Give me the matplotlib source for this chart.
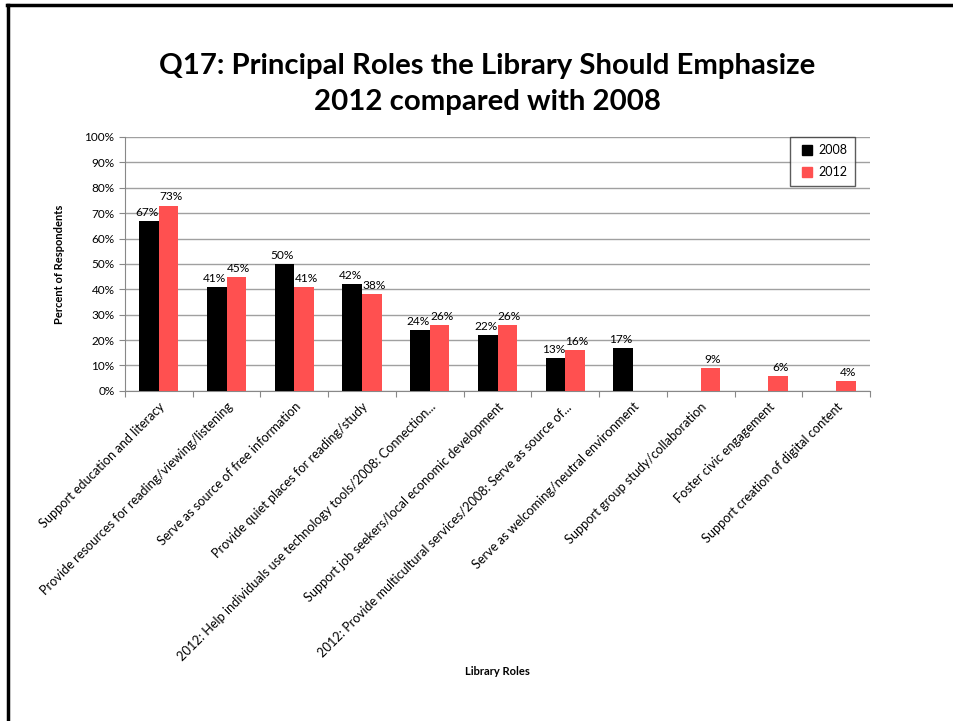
import matplotlib
matplotlib.use("Agg")
import matplotlib.pyplot as plt
from matplotlib.lines import Line2D
from matplotlib.ticker import FixedLocator, PercentFormatter
import numpy as np

roles = [
    "Support education and literacy",
    "Provide resources for reading/viewing/listening",
    "Serve as source of free information",
    "Provide quiet places for reading/study",
    "2012: Help individuals use technology tools/2008: Connection...",
    "Support job seekers/local economic development",
    "2012: Provide multicultural services/2008: Serve as source of...",
    "Serve as welcoming/neutral environment",
    "Support group study/collaboration",
    "Foster civic engagement",
    "Support creation of digital content",
]
pct_2008 = [67, 41, 50, 42, 24, 22, 13, 17, None, None, None]
pct_2012 = [73, 45, 41, 38, 26, 26, 16, None, 9, 6, 4]

plt.rcParams["font.family"] = ["Lato", "DejaVu Sans"]

fig = plt.figure(figsize=(9.54, 7.21), dpi=100)
ax = fig.add_axes([0.131, 0.458, 0.781, 0.352])

x = np.arange(len(roles))
w = 0.29
series = [(pct_2008, "2008", "#000000", -w / 2), (pct_2012, "2012", "#ff5050", w / 2)]
for vals, name, color, off in series:
    xs = [xi + off for xi, v in zip(x, vals) if v is not None]
    vs = [v for v in vals if v is not None]
    ax.bar(xs, vs, width=w, color=color, label=name, zorder=3)
    # 2008 labels nudged left a touch so neighbouring pairs don't collide
    nudge = -0.03 if name == "2008" else 0.03
    for xi, v in zip(xs, vs):
        ax.text(xi + nudge, v + 1.2, f"{v}%", ha="center", va="bottom", fontsize=8.6, zorder=4)

ax.set_xlim(-0.5, len(roles) - 0.5)
ax.set_ylim(0, 100)
ax.yaxis.set_major_locator(FixedLocator(np.arange(0, 101, 10)))
ax.yaxis.set_major_formatter(PercentFormatter(decimals=0))
ax.grid(axis="y", color="#a0a0a0", linewidth=1.0, zorder=0)

# category boundaries get the tick marks, centres get the labels
ax.set_xticks(np.arange(-0.5, len(roles)), labels=[])
ax.set_xticks(x, labels=roles, minor=True)
ax.tick_params(axis="x", which="major", length=4, color="#888888")
ax.tick_params(axis="x", which="minor", length=0, pad=7, labelsize=9.2)
ax.tick_params(axis="y", length=4, color="#888888", labelsize=8.5)
for lbl in ax.get_xticklabels(minor=True):
    lbl.set_rotation(45)
    lbl.set_ha("right")
    lbl.set_rotation_mode("anchor")

for side in ("top", "right"):
    ax.spines[side].set_visible(False)
for side in ("left", "bottom"):
    ax.spines[side].set_color("#888888")

ax.set_ylabel("Percent of Respondents", fontsize=8, fontweight="bold", labelpad=14)
fig.text(0.521, 0.069, "Library Roles", ha="center", va="center", fontsize=8, fontweight="bold")

fig.text(0.511, 0.908, "Q17: Principal Roles the Library Should Emphasize", ha="center",
         va="center", fontsize=21.2, fontweight="bold")
fig.text(0.511, 0.858, "2012 compared with 2008", ha="center", va="center",
         fontsize=21.2, fontweight="bold")

handles = [Line2D([], [], marker="s", linestyle="none", color=c, markersize=7, label=n)
           for _, n, c, _ in series]
leg = ax.legend(handles=handles, loc="upper right", bbox_to_anchor=(0.98, 1.0),
                borderaxespad=0.0, fontsize=9, frameon=True, fancybox=False,
                edgecolor="#333333", handletextpad=0.1, borderpad=0.6,
                labelspacing=0.8, handlelength=1.6)
leg.get_frame().set_linewidth(1.0)

# slide frame along the top and left edges
fig.add_artist(Line2D([0.0075, 1.0], [0.993, 0.993], color="black", linewidth=2.5,
                      transform=fig.transFigure))
fig.add_artist(Line2D([0.0085, 0.0085], [0.0, 0.993], color="black", linewidth=2.5,
                      transform=fig.transFigure))

fig.savefig("out.png", dpi=100, facecolor="white")
